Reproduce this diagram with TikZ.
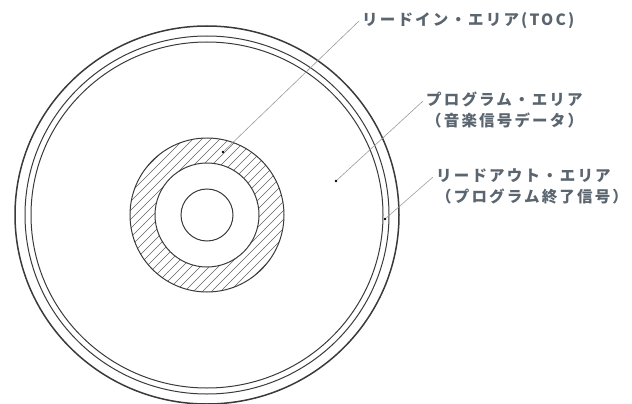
\documentclass[tikz,border=0pt]{standalone}
\usepackage{fontspec}
\newfontfamily\jpfont{Noto Sans CJK JP}[LetterSpace=14]
\usetikzlibrary{positioning}
\definecolor{inkgray}{HTML}{3A3A3A}
\definecolor{labelgray}{HTML}{5A6570}
\definecolor{leadgray}{HTML}{9A9A9A}

\tikzset{
  rim/.style={draw=inkgray, line width=1.5pt},
  track/.style={draw=inkgray, line width=1pt},
  hatch/.style={draw=inkgray!80, line width=0.6pt},
  leader/.style={draw=leadgray, line width=0.6pt},
  lbl/.style={font=\jpfont\bfseries\fontsize{15.5}{18}\selectfont, text=labelgray,
    inner sep=3pt, text height=12pt, text depth=3pt},
  spot/.style={fill=black, circle, inner sep=0pt, minimum size=2.8pt},
}

\begin{document}
\begin{tikzpicture}[x=1pt,y=-1pt]
    \useasboundingbox (0,0) rectangle (632,404);
    % disc rims
    \coordinate (c) at (207,215);
    \draw [rim] (c) ellipse (192 and 189);
    \draw [track] (c) ellipse (182 and 179);
    \draw [track] (c) ellipse (176 and 173);
    % lead-in ring and hole
    \begin{scope}[even odd rule]
      \clip (c) circle (77) (c) circle (52);
      \foreach \k in {-18,...,18}
        \draw [hatch, shift={(c)}] (\k*9-100,100) -- ++(200,-200);
    \end{scope}
    \draw [track] (c) circle (77);
    \draw [track] (c) circle (52);
    \draw [track] (c) circle (26);
    % labels
    \node [spot] (tocdot) at (223,152) {};
    \node [lbl, anchor=west] (toc) at (359,21) {リードイン・エリア(TOC)};
    \draw [leader] (tocdot) -- (toc.west);
    \node [spot] (progdot) at (336,181) {};
    \node [lbl, anchor=west] (prog) at (423,101) {プログラム・エリア};
    \node [lbl, below=0pt of prog.south west, anchor=north west] (progsub) {（音楽信号データ）};
    \draw [leader] (progdot) -- (prog.west);
    \node [spot] (outdot) at (385,219) {};
    \node [lbl, anchor=west] (out) at (433,177) {リードアウト・エリア};
    \node [lbl, below=0pt of out.south west, anchor=north west] (outsub) {（プログラム終了信号）};
    \draw [leader] (outdot) -- (out.west);
\end{tikzpicture}
\end{document}
